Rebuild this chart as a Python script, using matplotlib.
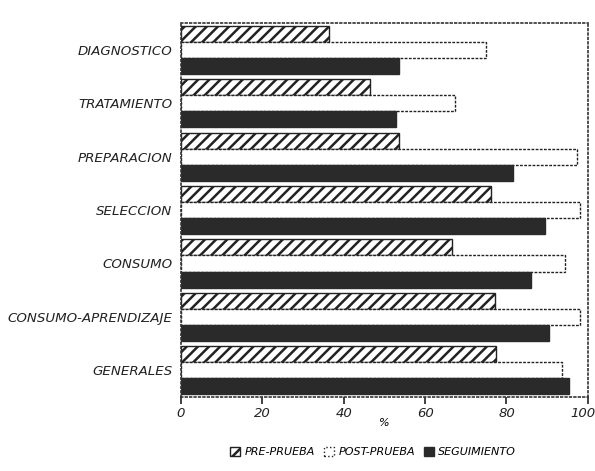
import numpy as np
import matplotlib.pyplot as plt
import matplotlib.transforms as mtransforms
from matplotlib.patches import Patch

categorias = ["DIAGNOSTICO", "TRATAMIENTO", "PREPARACION", "SELECCION",
              "CONSUMO", "CONSUMO-APRENDIZAJE", "GENERALES"]
pre_prueba = [36.4, 46.4, 53.6, 76.2, 66.6, 77.2, 77.4]
post_prueba = [75.0, 67.4, 97.3, 98.0, 94.3, 98.0, 93.6]
seguimiento = [53.6, 52.8, 81.6, 89.4, 86.0, 90.4, 95.3]
ticks_x = [0, 20, 40, 60, 80, 100]


def plotChart():
    plt.rcParams['hatch.linewidth'] = 1.8
    plt.rcParams['hatch.color'] = "#1e1e1e"
    fig = plt.figure(figsize=(5.95, 4.71), dpi=100)
    ax = fig.add_axes([0.304, 0.157, 0.684, 0.794])

    y = np.arange(len(categorias))
    h = 0.3
    ax.barh(y - h, pre_prueba, height=h, color="white", edgecolor="#222222",
            hatch="///", linewidth=1.0, label="PRE-PRUEBA")
    ax.barh(y, post_prueba, height=h, color="white", edgecolor="#222222",
            linewidth=1.0, linestyle=(0, (2, 1)), label="POST-PRUEBA")
    ax.barh(y + h, seguimiento, height=h, color="#2a2a2a", edgecolor="#2a2a2a",
            linewidth=1.0, label="SEGUIMIENTO")

    ax.set_ylim(6.5, -0.5)
    ax.set_xlim(0, 100)
    ax.set_yticks(y)
    ax.set_yticklabels(categorias, fontsize=9.6, style="italic", color="#222222")
    ax.tick_params(axis="y", length=0, pad=6)
    ax.set_xticks(ticks_x)
    ax.set_xticklabels([str(t) for t in ticks_x], fontsize=9.5, style="italic",
                       color="#222222")
    ax.tick_params(axis="x", length=5, width=1.2, color="#222222", pad=2)
    # pull the last label in a bit so it stays on the page
    last = ax.get_xticklabels()[-1]
    last.set_transform(last.get_transform() +
                       mtransforms.ScaledTranslation(-5 / 100, 0, fig.dpi_scale_trans))
    ax.set_xlabel("%", fontsize=8, style="italic", labelpad=-1)

    for s in ax.spines.values():
        s.set_linestyle(":")
        s.set_linewidth(1.2)
        s.set_color("#333333")

    handles = [
        Patch(facecolor="white", edgecolor="#222222", hatch="///", label="PRE-PRUEBA"),
        Patch(facecolor="white", edgecolor="#222222", linestyle=":", label="POST-PRUEBA"),
        Patch(facecolor="#2a2a2a", edgecolor="#2a2a2a", label="SEGUIMIENTO"),
    ]
    fig.legend(handles=handles, loc="center", bbox_to_anchor=(0.627, 0.04),
               ncol=3, frameon=False, prop={"size": 8, "style": "italic"},
               handlelength=0.9, handleheight=0.9, handletextpad=0.4,
               columnspacing=0.8)

    plt.savefig("out.png", dpi=100)
    plt.close()


if __name__ == '__main__':
    plotChart()
